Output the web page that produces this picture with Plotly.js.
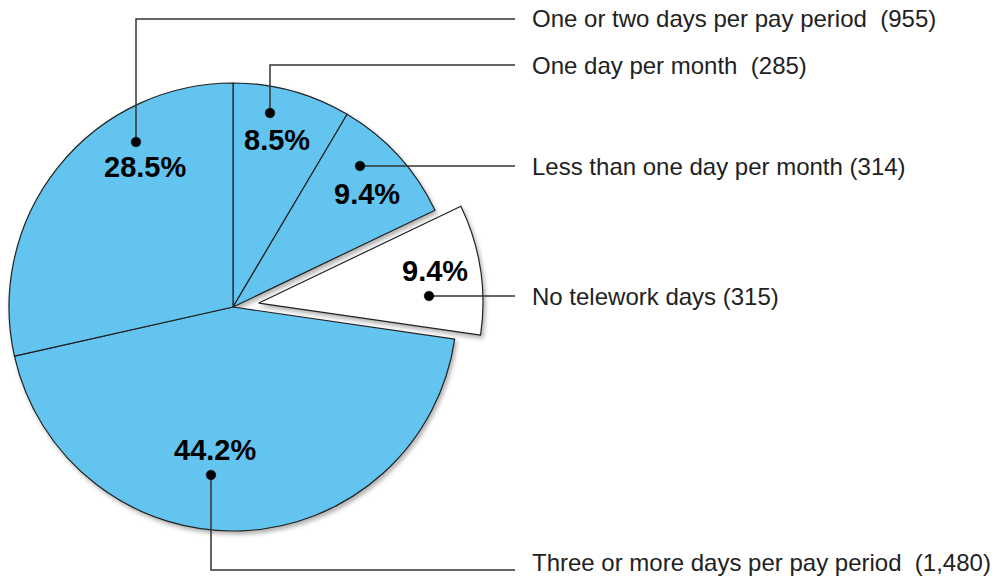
<!DOCTYPE html>
<html><head><meta charset="utf-8">
<script src="https://cdn.plot.ly/plotly-3.0.1.min.js"></script>
<style>
html,body{margin:0;padding:0;overflow:hidden;background:#fff;}
#chart{position:absolute;left:-20px;top:0;width:1015px;height:582px;}
.pielayer .trace{filter:drop-shadow(2px 3px 2px rgba(0,0,0,0.3));}
</style></head><body><div id="chart"></div>
<script>
// ---- data ----
const categories = ['One day per month', 'Less than one day per month', 'No telework days',
                    'Three or more days per pay period', 'One or two days per pay period'];
const counts = [285, 314, 315, 1480, 955];
const countSeparators = ['\u00a0\u00a0', ' ', ' ', '\u00a0\u00a0', '\u00a0\u00a0'];
const sliceColors = ['#62C4EF', '#62C4EF', '#FFFFFF', '#62C4EF', '#62C4EF'];
const pulls = [0, 0, 0.117, 0, 0];

// ---- layout (pixel positions in page coordinates) ----
const OFF = 20, W = 1015, H = 582;
const cx = 233, cy = 307, R = 224;
const half = R * (1 + Math.max(...pulls));
const px = x => (x + OFF) / W;
const py = y => 1 - y / H;

const pctPos = [[277, 140], [367, 194], [435, 271], [215, 450], [145, 167]];
const leaderPaths = [
  [[270, 113], [270, 65], [515, 65]],
  [[360, 166], [515, 166]],
  [[429, 296], [515, 296]],
  [[211, 475], [211, 570], [515, 570]],
  [[136, 142], [136, 19], [515, 19]]
];
const labelY = [65, 166, 296, 562, 19];
const labelX = 530;

const total = counts.reduce((a, b) => a + b, 0);

const trace = {
  type: 'pie',
  values: counts,
  labels: categories,
  sort: false,
  direction: 'clockwise',
  rotation: 0,
  pull: pulls,
  textinfo: 'none',
  hoverinfo: 'label+value+percent',
  marker: {colors: sliceColors, line: {color: '#222', width: 1.2}},
  domain: {x: [px(cx - half), px(cx + half)], y: [py(cy + half), py(cy - half)]},
  showlegend: false
};

const shapes = [];
const annotations = [];
leaderPaths.forEach((pts, i) => {
  const d = pts.map((p, k) => (k ? 'L' : 'M') + px(p[0]) + ',' + py(p[1])).join(' ');
  shapes.push({type: 'path', xref: 'paper', yref: 'paper', path: d,
               line: {color: '#333', width: 1.5}});
  const [dx, dy] = pts[0];
  const r = 4.8;
  shapes.push({type: 'circle', xref: 'paper', yref: 'paper',
               x0: px(dx - r), x1: px(dx + r), y0: py(dy + r), y1: py(dy - r),
               fillcolor: '#000', line: {color: '#000', width: 0.5}});
});

counts.forEach((v, i) => {
  annotations.push({
    xref: 'paper', yref: 'paper', x: px(pctPos[i][0]), y: py(pctPos[i][1]),
    xanchor: 'center', yanchor: 'middle', showarrow: false,
    text: '<b>' + (v / total * 100).toFixed(1) + '%</b>',
    font: {family: 'Liberation Sans, Arial, sans-serif', size: 29, color: '#000'}
  });
  annotations.push({
    xref: 'paper', yref: 'paper', x: px(labelX), y: py(labelY[i]),
    xanchor: 'left', yanchor: 'middle', showarrow: false,
    text: categories[i] + countSeparators[i] + '(' + v.toLocaleString('en-US') + ')',
    font: {family: 'Liberation Sans, Arial, sans-serif', size: 24, color: '#222'}
  });
});

const layout = {
  width: W, height: H,
  margin: {l: 0, r: 0, t: 0, b: 0},
  paper_bgcolor: '#fff',
  shapes: shapes,
  annotations: annotations
};

Plotly.newPlot('chart', [trace], layout, {displayModeBar: false, staticPlot: true});
</script></body></html>
